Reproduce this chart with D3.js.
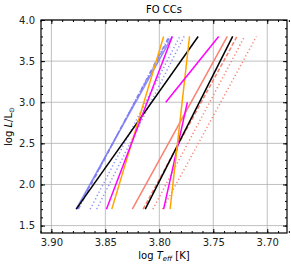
<!DOCTYPE html>
<html>
<head>
<meta charset="utf-8">
<script src="https://cdn.jsdelivr.net/npm/d3@7"></script>
<style>
body { margin: 0; background: #fff; }
svg { font-family: "DejaVu Sans", sans-serif; }
</style>
</head>
<body>
<div id="app"></div>
<script>
// lines: [logTeff at start, logL at start, logTeff at end, logL at end]
var lineNames = ["blueSolid", "blueDashed", "blueDashDot", "blueDot1", "blueDot2",
  "black1", "orange1", "magenta1", "salmonSolid", "salmonDashed",
  "black2", "salmonDot1", "salmonDot2", "magenta2", "orange2", "magenta3"]
var x0 = [3.877, 3.876, 3.875, 3.864, 3.858, 3.877, 3.844, 3.849, 3.825, 3.815, 3.813, 3.806, 3.797, 3.796, 3.790, 3.794]
var y0 = [1.7, 1.7, 1.7, 1.7, 1.7, 1.7, 1.7, 1.7, 1.7, 1.7, 1.7, 1.7, 1.7, 1.7, 1.7, 3.0]
var x1 = [3.788, 3.790, 3.791, 3.781, 3.777, 3.764, 3.796, 3.788, 3.737, 3.728, 3.732, 3.721, 3.710, 3.774, 3.772, 3.745]
var y1 = [3.8, 3.8, 3.8, 3.8, 3.8, 3.8, 3.8, 3.8, 3.8, 3.8, 3.8, 3.8, 3.8, 3.0, 3.8, 3.8]
var colors = ["#7b7bf5", "#7b7bf5", "#7b7bf5", "#7b7bf5", "#7b7bf5",
  "black", "orange", "magenta", "salmon", "salmon",
  "black", "salmon", "salmon", "magenta", "orange", "magenta"]
var dashes = ["", "5,2", "4,2,1,2", "1.2,2.5", "1.2,2.5",
  "", "", "", "", "4,2",
  "", "1.2,2.5", "1.2,2.5", "", "", ""]

var xTicks = [3.90, 3.85, 3.80, 3.75, 3.70]
var yTicks = [1.5, 2.0, 2.5, 3.0, 3.5, 4.0]

const W = 291, H = 268
const m = {left: 41, right: 4, top: 20, bottom: 35}

var svg = d3.select("#app").append("svg").attr("width", W).attr("height", H)

var x = d3.scaleLinear().domain([3.9096, 3.6817]).range([m.left, W - m.right])
var y = d3.scaleLinear().domain([1.41, 4.0]).range([H - m.bottom, m.top])

var g = svg.append("g")

// grid
g.selectAll(".gx").data(xTicks).enter().append("line")
  .attr("x1", d => x(d)).attr("x2", d => x(d))
  .attr("y1", m.top).attr("y2", H - m.bottom)
  .style("stroke", "#b0b0b0").style("stroke-width", 0.8)
g.selectAll(".gy").data(yTicks).enter().append("line")
  .attr("y1", d => y(d)).attr("y2", d => y(d))
  .attr("x1", m.left).attr("x2", W - m.right)
  .style("stroke", "#b0b0b0").style("stroke-width", 0.8)

// lines
var clip = svg.append("clipPath").attr("id", "clip").append("rect")
  .attr("x", m.left).attr("y", m.top).attr("width", W - m.left - m.right).attr("height", H - m.top - m.bottom)
var lg = svg.append("g").attr("clip-path", "url(#clip)")
lineNames.forEach((n, i) => {
  lg.append("line")
    .attr("x1", x(x0[i])).attr("y1", y(y0[i]))
    .attr("x2", x(x1[i])).attr("y2", y(y1[i]))
    .style("stroke", colors[i])
    .style("stroke-width", 1.5)
    .style("stroke-dasharray", dashes[i] || null)
    .style("opacity", i < 5 ? 0.85 : 1)
})

// axes with inward ticks on all sides
const minorX = d3.range(3.68, 3.911, 0.01).map(v => +v.toFixed(2))
const minorY = d3.range(1.5, 4.01, 0.1).map(v => +v.toFixed(1))

const axBottom = d3.axisBottom(x).tickValues(xTicks).tickFormat(d3.format(".2f")).tickSizeInner(-4).tickSizeOuter(0).tickPadding(6)
const axLeft = d3.axisLeft(y).tickValues(yTicks).tickFormat(d3.format(".1f")).tickSizeInner(-4).tickSizeOuter(0).tickPadding(6)
const axTop = d3.axisTop(x).tickValues(xTicks).tickFormat("").tickSizeInner(-4).tickSizeOuter(0)
const axRight = d3.axisRight(y).tickValues(yTicks).tickFormat("").tickSizeInner(-4).tickSizeOuter(0)

const bMinor = d3.axisBottom(x).tickValues(minorX).tickFormat("").tickSizeInner(-2).tickSizeOuter(0)
const tMinor = d3.axisTop(x).tickValues(minorX).tickFormat("").tickSizeInner(-2).tickSizeOuter(0)
const lMinor = d3.axisLeft(y).tickValues(minorY).tickFormat("").tickSizeInner(-2).tickSizeOuter(0)
const rMinor = d3.axisRight(y).tickValues(minorY).tickFormat("").tickSizeInner(-2).tickSizeOuter(0)

const axes = [
  [axBottom, `translate(0,${H - m.bottom})`], [bMinor, `translate(0,${H - m.bottom})`],
  [axTop, `translate(0,${m.top})`], [tMinor, `translate(0,${m.top})`],
  [axLeft, `translate(${m.left},0)`], [lMinor, `translate(${m.left},0)`],
  [axRight, `translate(${W - m.right},0)`], [rMinor, `translate(${W - m.right},0)`]
]
axes.forEach(a => {
  var ax = svg.append("g").attr("transform", a[1]).call(a[0])
  ax.select(".domain").remove()
  ax.selectAll("line").style("stroke", "black").style("stroke-width", 1)
  ax.selectAll("text").style("font-size", "10px").style("fill", "#222").style("font-family", "DejaVu Sans")
})

svg.append("rect")
  .attr("x", m.left).attr("y", m.top)
  .attr("width", W - m.left - m.right).attr("height", H - m.top - m.bottom)
  .style("fill", "none").style("stroke", "black").style("stroke-width", 1.2)

// title
svg.append("text").attr("x", (m.left + W - m.right) / 2).attr("y", 13)
  .attr("text-anchor", "middle").style("font-size", "10px").text("FO CCs")

// x label
var xl = svg.append("text").attr("x", (m.left + W - m.right) / 2).attr("y", 259)
  .attr("text-anchor", "middle").style("font-size", "10px")
xl.append("tspan").text("log ")
xl.append("tspan").style("font-style", "italic").text("T")
xl.append("tspan").style("font-style", "italic").style("font-size", "7px").attr("dy", 2).text("eff")
xl.append("tspan").attr("dy", -2).text(" [K]")

// y label
var yl = svg.append("text").attr("transform", `translate(12,${(m.top + H - m.bottom) / 2}) rotate(-90)`)
  .attr("text-anchor", "middle").style("font-size", "10px")
yl.append("tspan").text("log ")
yl.append("tspan").style("font-style", "italic").text("L")
yl.append("tspan").text("/L")
yl.append("tspan").style("font-size", "7px").attr("dy", 2).text("⊙")
</script>
</body>
</html>
